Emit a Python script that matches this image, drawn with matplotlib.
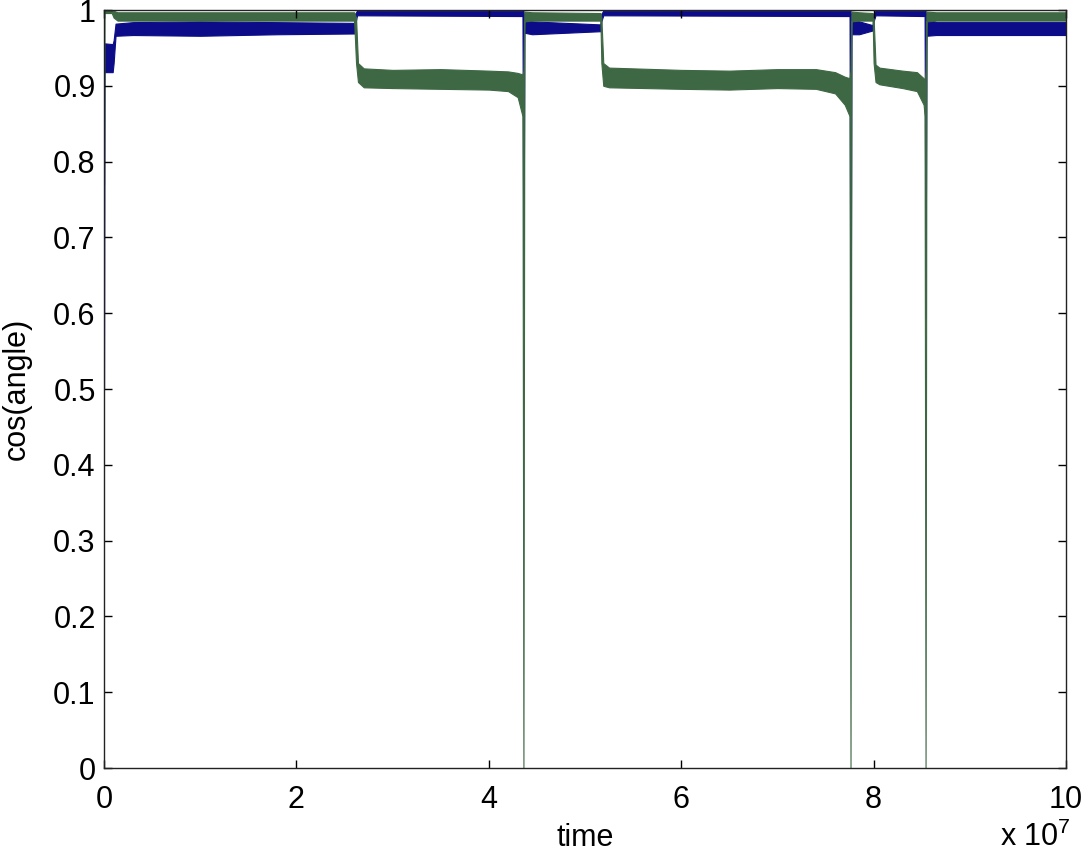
import numpy as np
import matplotlib
matplotlib.use('Agg')
import matplotlib.pyplot as plt

plt.rcParams['font.family'] = ['Liberation Sans', 'DejaVu Sans']
plt.rcParams['mathtext.default'] = 'regular'

# time in units of 1e7, envelope (low / high) of each noisy trace
t_blue  = [0, 0.005, 0.09, 0.1, 0.12, 0.3, 1.0, 1.8, 2.6, 2.61, 2.63, 4.35, 4.36, 4.37, 4.45,
           5.16, 5.17, 5.19, 7.75, 7.76, 7.77, 7.85, 7.99, 8.0, 8.02, 8.53, 8.54, 8.55, 8.65, 10]
blue_lo = [0.50, 0.918, 0.918, 0.93, 0.966, 0.967, 0.966, 0.968, 0.969, 0.98, 0.993, 0.992, 0.607, 0.97, 0.968,
           0.972, 0.985, 0.993, 0.992, 0.446, 0.968, 0.968, 0.973, 0.985, 0.993, 0.992, 0.594, 0.966, 0.967, 0.967]
blue_hi = [0.95, 0.956, 0.955, 0.96, 0.982, 0.984, 0.985, 0.984, 0.983, 0.995, 0.999, 0.999, 0.999, 0.99, 0.985,
           0.981, 0.995, 0.999, 0.999, 0.999, 0.99, 0.985, 0.98, 0.995, 0.999, 0.999, 0.999, 0.99, 0.984, 0.984]

t_green  = [0, 0.005, 0.08, 0.1, 0.14, 1.0, 2.0, 2.6, 2.62, 2.64, 2.7, 3.0, 3.5, 4.0, 4.2, 4.3, 4.35, 4.36,
            4.37, 4.45, 5.16, 5.17, 5.19, 5.25, 6.0, 6.5, 7.0, 7.4, 7.6, 7.7, 7.75, 7.76, 7.77, 7.85, 7.99,
            8.0, 8.02, 8.06, 8.3, 8.45, 8.52, 8.53, 8.54, 8.55, 8.65, 10]
green_lo = [0.77, 0.996, 0.996, 0.99, 0.986, 0.986, 0.986, 0.986, 0.93, 0.905, 0.898, 0.897, 0.896, 0.895, 0.893,
            0.885, 0.86, 0.0, 0.985, 0.986, 0.986, 0.93, 0.90, 0.898, 0.896, 0.895, 0.897, 0.896, 0.89, 0.875,
            0.86, 0.0, 0.985, 0.986, 0.986, 0.93, 0.905, 0.902, 0.897, 0.893, 0.875, 0.86, 0.0, 0.985, 0.986, 0.986]
green_hi = [1.0, 1.0, 1.0, 0.999, 0.997, 0.997, 0.997, 0.997, 0.99, 0.93, 0.923, 0.921, 0.922, 0.92, 0.919,
            0.917, 0.915, 0.92, 0.998, 0.997, 0.996, 0.99, 0.93, 0.924, 0.921, 0.92, 0.922, 0.922, 0.918, 0.912,
            0.91, 0.92, 0.998, 0.997, 0.996, 0.99, 0.928, 0.924, 0.92, 0.918, 0.91, 0.905, 0.92, 0.998, 0.997, 0.997]

x_ticks = [0, 2, 4, 6, 8, 10]
y_ticks = [0, 0.1, 0.2, 0.3, 0.4, 0.5, 0.6, 0.7, 0.8, 0.9, 1]

blue = '#0c0c88'
green = '#3e6844'
fs = 22

fig = plt.figure(figsize=(10.82, 8.55), dpi=100)
ax = fig.add_axes([104 / 1082, 87 / 855, 962 / 1082, 758 / 855])

ax.fill_between(np.array(t_blue) * 1e7, blue_lo, blue_hi, color=blue, edgecolor=blue, linewidth=0.8)
ax.fill_between(np.array(t_green) * 1e7, green_lo, green_hi, color=green, edgecolor=green, linewidth=0.8)

ax.set_xlim(0, 1e8)
ax.set_ylim(0, 1)
ax.set_xticks([v * 1e7 for v in x_ticks])
ax.set_xticklabels([str(v) for v in x_ticks])
ax.set_yticks(y_ticks)
ax.set_yticklabels(['%g' % v for v in y_ticks])

ax.tick_params(direction='in', length=6, width=1, top=True, right=True, labelsize=fs, colors='black')
ax.tick_params(axis='x', pad=12)
ax.tick_params(axis='y', pad=6)
for s in ax.spines.values():
    s.set_linewidth(1)
    s.set_color('#222222')

ax.set_ylabel('cos(angle)', fontsize=fs)
ax.yaxis.set_label_coords(-0.075, 0.5)
ax.text(0.5, -0.103, 'time', transform=ax.transAxes, ha='center', va='baseline', fontsize=fs)
ax.text(0.931, -0.103, r'x 10$^{7}$', transform=ax.transAxes, ha='left', va='baseline', fontsize=fs)

fig.savefig('out.png', dpi=100)
